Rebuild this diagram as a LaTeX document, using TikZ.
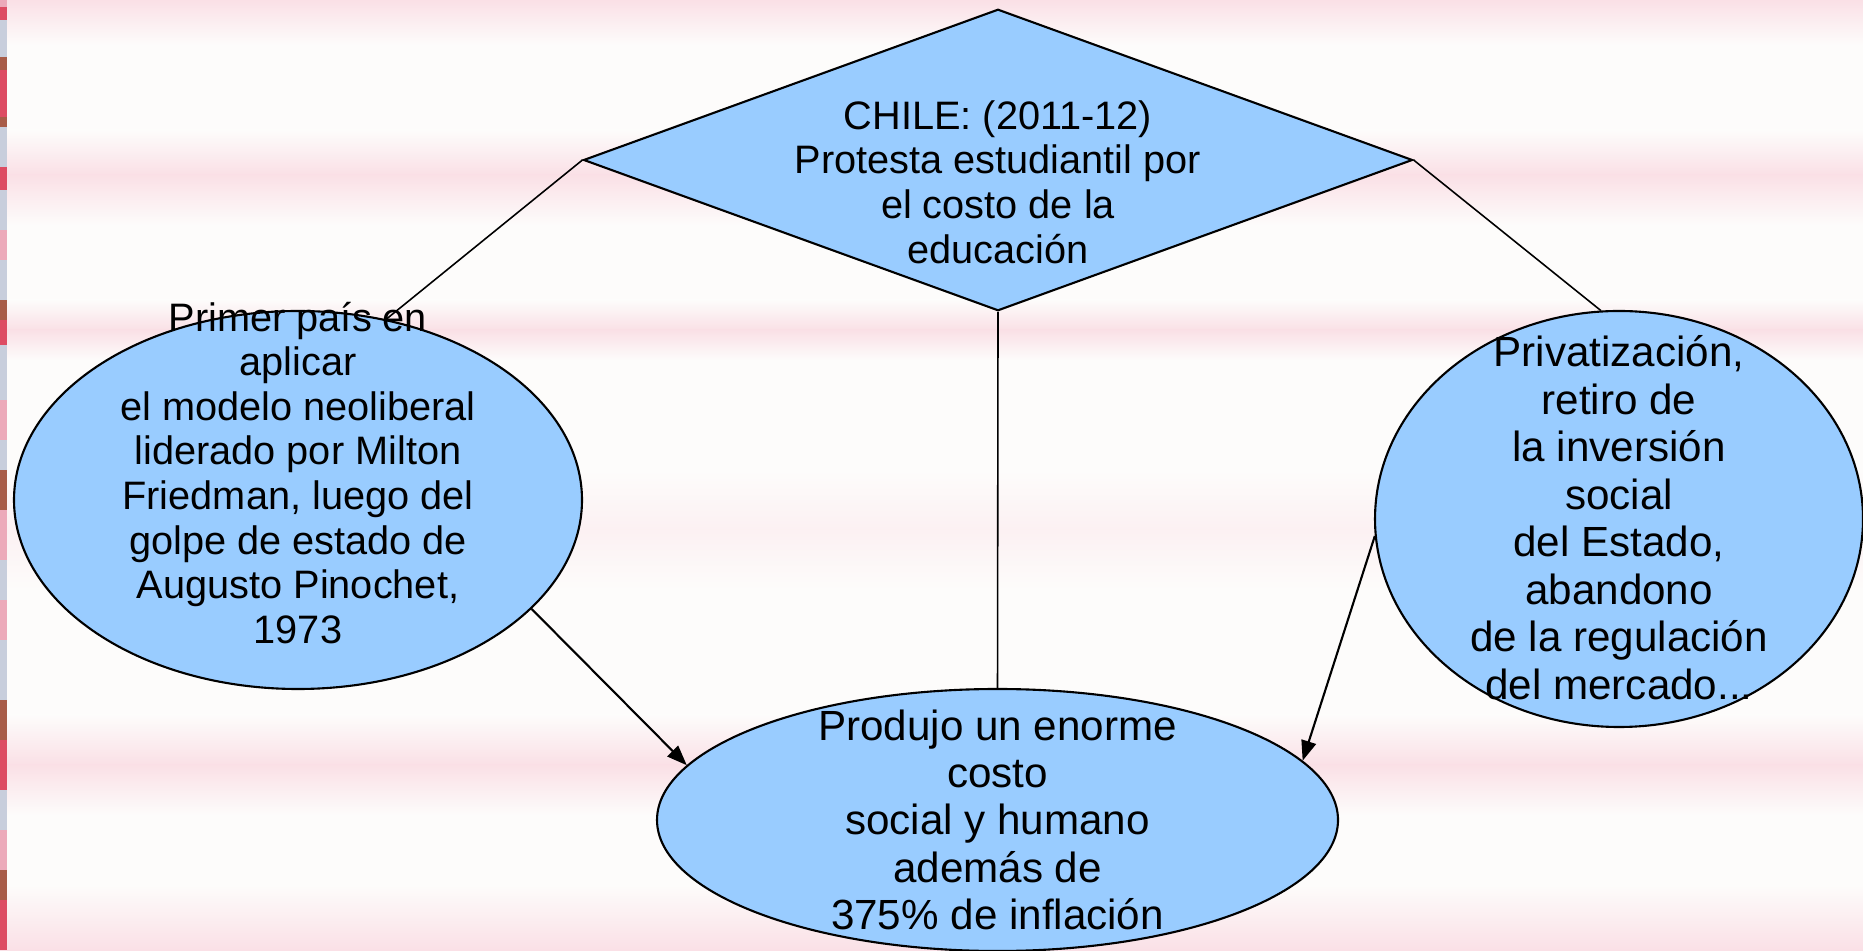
\documentclass[tikz,border=0pt]{standalone}
\usepackage{fontspec}
\setmainfont{Liberation Sans}
\usetikzlibrary{shapes.geometric,arrows.meta}
\definecolor{bubbleColor}{RGB}{153, 204, 255}
\definecolor{stripeColor}{RGB}{250, 224, 230}
\definecolor{paperColor}{RGB}{253, 252, 251}
\definecolor{edgeRed}{RGB}{221, 76, 99}
\definecolor{edgeBrown}{RGB}{168, 92, 72}
\definecolor{edgeGrey}{RGB}{200, 206, 220}
\definecolor{edgePink}{RGB}{236, 170, 186}
\newcommand{\flatlines}[2]{\smash{\makebox[0pt]{\raisebox{#1}{\begin{tabular}{@{}c@{}}#2\end{tabular}}}}}

\begin{document}
\begin{tikzpicture}[
    bubble/.style={ellipse, draw, line width=0.6pt, fill=bubbleColor, inner sep=0pt},
    link/.style={line width=0.45pt},
    push/.style={line width=0.6pt, -{Triangle[length=0.2cm,width=0.15cm]}}
]
    \useasboundingbox (0,0) rectangle (18.63,9.5);
    % Striped paper
    \fill[paperColor] (0,0) rectangle (18.63,9.5);
    \shade[top color=stripeColor, bottom color=paperColor] (0,9.05) rectangle (18.63,9.5);
    \foreach \lo/\mid/\hi/\tint in {7.25/7.75/8.2/100, 5.9/6.2/6.5/100, 3.6/4.2/4.8/40, 1.35/1.85/2.35/100} {
        \shade[top color=paperColor, bottom color=stripeColor!\tint!paperColor] (0,\mid) rectangle (18.63,\hi);
        \shade[top color=stripeColor!\tint!paperColor, bottom color=paperColor] (0,\lo) rectangle (18.63,\mid);
    }
    \shade[top color=paperColor, bottom color=stripeColor] (0,0) rectangle (18.63,0.65);
    % Left border
    \foreach \hi/\lo/\c in {9.50/9.43/edgePink, 9.43/9.30/edgeRed, 9.30/8.93/edgeGrey, 8.93/8.80/edgeBrown,
        8.80/8.33/edgeRed, 8.33/8.23/edgeBrown, 8.23/7.83/edgeGrey, 7.83/7.60/edgeRed, 7.60/7.20/edgeGrey,
        7.20/6.90/edgePink, 6.90/6.50/edgeGrey, 6.50/6.30/edgeBrown, 6.30/6.05/edgeRed, 6.05/5.50/edgeGrey,
        5.50/5.10/edgePink, 5.10/4.80/edgeGrey, 4.80/4.40/edgeBrown, 4.40/3.90/edgePink, 3.90/3.50/edgeGrey,
        3.50/3.10/edgePink, 3.10/2.50/edgeGrey, 2.50/2.10/edgeBrown, 2.10/1.60/edgeRed, 1.60/1.20/edgeGrey,
        1.20/0.80/edgePink, 0.80/0.50/edgeBrown, 0.50/0.00/edgeRed} {
        \fill[\c] (0,\lo) rectangle (0.07,\hi);
    }

    % Central question
    \node[diamond, draw, line width=0.6pt, fill=bubbleColor, inner sep=0pt,
          minimum width=8.29cm, minimum height=3.015cm,
          font=\fontsize{11.3}{12.7}\selectfont] (chile) at (9.98,7.90)
        {\flatlines{-0.37cm}{CHILE: (2011-12)\\Protesta estudiantil por\\el costo de la\\educación}};

    % Causes and effect
    \node[bubble, minimum width=5.68cm, minimum height=3.78cm,
          font=\fontsize{11.3}{12.7}\selectfont] (pioneer) at (2.98,4.50)
        {\flatlines{0.12cm}{Primer país en\\aplicar\\el modelo neoliberal\\liderado por Milton\\Friedman, luego del\\golpe de estado de\\Augusto Pinochet,\\1973}};
    \node[bubble, minimum width=4.88cm, minimum height=4.16cm,
          font=\fontsize{12}{13.5}\selectfont] (privat) at (16.19,4.31)
        {\flatlines{-0.15cm}{Privatización,\\retiro de\\la inversión\\social\\del Estado,\\abandono\\de la regulación\\del mercado...}};
    \node[bubble, minimum width=6.81cm, minimum height=2.62cm,
          font=\fontsize{12}{13.5}\selectfont] (cost) at (9.975,1.30)
        {\flatlines{-0.16cm}{Produjo un enorme\\costo\\social y humano\\además de\\375\% de inflación}};

    % Connections
    \draw[link] (chile.west) -- (pioneer.64);
    \draw[link] (chile.east) -- (privat.95);
    \draw[link] (chile.south) -- (cost.north);
    \draw[push] (pioneer.-25) -- (cost.170);
    \draw[push] (privat.184) -- (cost.11);
\end{tikzpicture}
\end{document}
